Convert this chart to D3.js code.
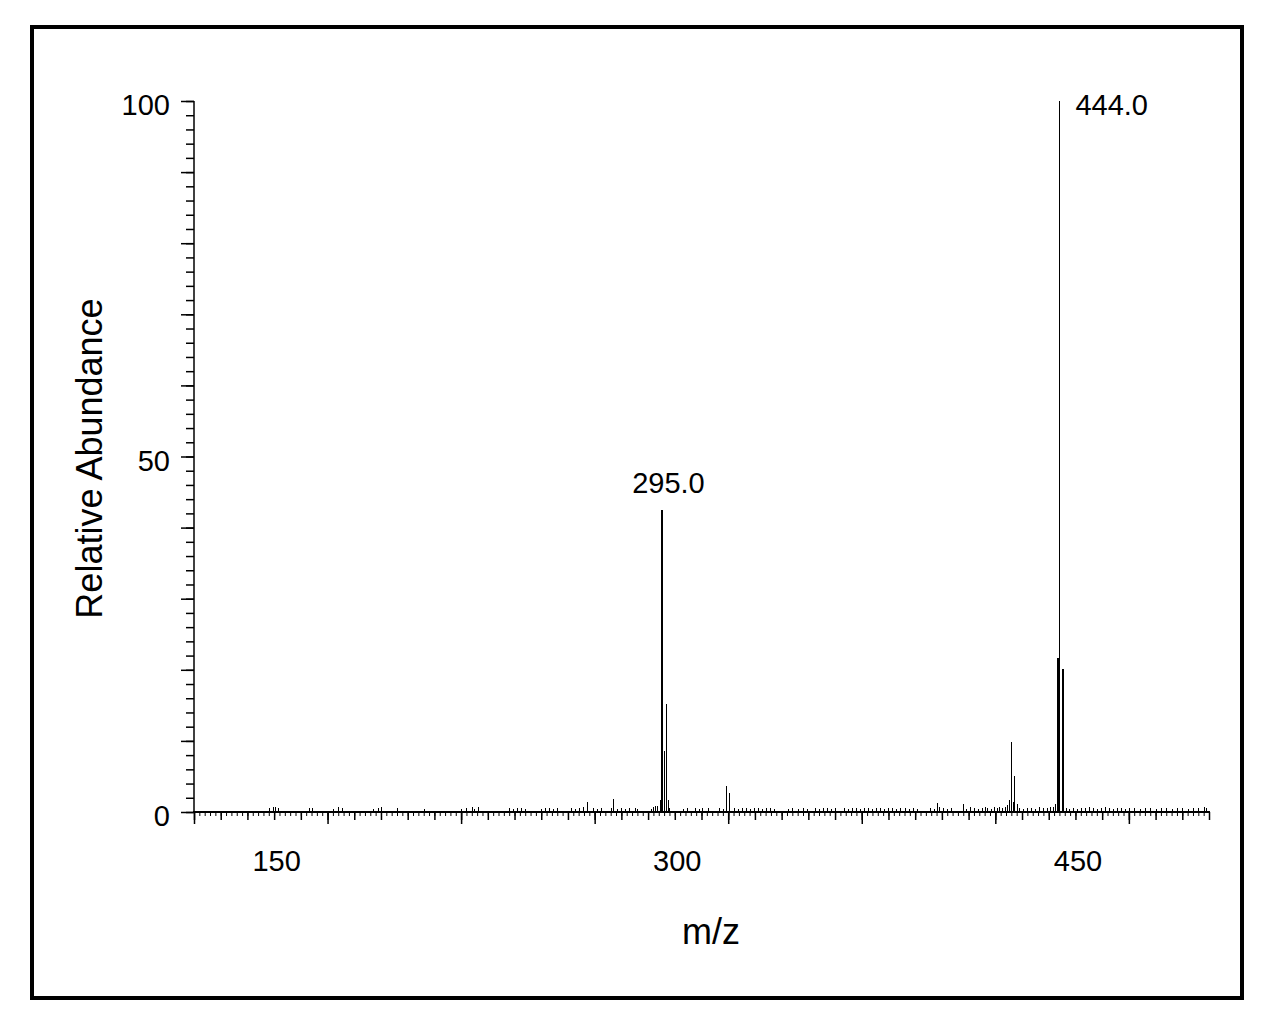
<!DOCTYPE html>
<html>
<head>
<meta charset="utf-8">
<script src="https://cdn.jsdelivr.net/npm/d3@7"></script>
<style>
  body { margin: 0; background: #fff; }
  text { font-family: "Liberation Sans", Arial, sans-serif; fill: #000; }
</style>
</head>
<body>
<svg id="chart"></svg>
<script>
// main peaks [m/z, relative abundance]
const peaks = [
  [267.2, 1.4], [277.0, 1.8], [292.6, 0.9], [293.5, 0.8], [294.4, 1.7],
  [295.0, 42.5], [295.3, 42.5], [296.0, 8.6], [296.6, 15.2], [297.5, 1.7], [298.0, 0.5],
  [319.0, 3.6], [320.4, 2.7], [398.0, 1.3], [408.0, 1.1], [416.0, 0.7],
  [425.3, 1.7], [426.0, 9.8], [426.7, 1.4], [427.1, 5.1], [428.1, 1.1],
  [442.3, 1.1], [443.1, 21.7], [443.4, 21.7], [443.7, 18.7], [444.0, 100],
  [445.0, 20.1], [445.3, 20.1]
];

// baseline noise [m/z, relative abundance]
const noise = [
  [148, 0.4], [149.5, 0.5], [150.5, 0.6], [151.5, 0.4], [163, 0.4], [164, 0.4], [172, 0.3],
  [174, 0.5], [175.5, 0.4], [187, 0.3], [189, 0.4], [190, 0.5], [196, 0.4], [206, 0.3],
  [220, 0.3], [222, 0.4], [224, 0.5], [225, 0.3], [226.5, 0.5], [238, 0.4], [239.5, 0.3],
  [241, 0.4], [242.5, 0.4], [244, 0.3], [250, 0.3], [251.5, 0.4], [253, 0.4], [254.5, 0.3],
  [256, 0.4], [261, 0.4], [262.5, 0.3], [264, 0.4], [265.5, 0.5], [269.5, 0.4], [271, 0.3],
  [272.5, 0.4], [276, 0.4], [278.5, 0.3], [280, 0.4], [281.5, 0.3], [283, 0.4], [285, 0.4],
  [286, 0.3], [291, 0.3], [292, 0.5], [303, 0.3], [304.5, 0.4], [307.5, 0.4], [309, 0.3],
  [310, 0.4], [312.5, 0.4], [316.5, 0.4], [318, 0.3], [322, 0.4], [323.5, 0.3], [325, 0.4],
  [326.5, 0.4], [328, 0.3], [329.5, 0.4], [331, 0.4], [332.5, 0.3], [334, 0.4], [335.5, 0.4],
  [337, 0.3], [342.5, 0.3], [344, 0.4], [346, 0.3], [348, 0.4], [349.5, 0.3], [352.5, 0.4],
  [354, 0.3], [355.5, 0.4], [357, 0.4], [358.5, 0.3], [360, 0.4], [363.5, 0.4], [365, 0.3],
  [366.5, 0.4], [368, 0.4], [369.5, 0.3], [371, 0.4], [372.5, 0.4], [374, 0.3], [375.5, 0.4],
  [377, 0.4], [378.5, 0.3], [380, 0.4], [381.5, 0.4], [383, 0.3], [384.5, 0.4], [386, 0.4],
  [387.5, 0.3], [389, 0.4], [390.5, 0.3], [395.5, 0.4], [397, 0.3], [399, 0.5], [400.5, 0.4],
  [402, 0.3], [403.5, 0.4], [409, 0.3], [410.5, 0.6], [412, 0.4], [413.5, 0.3], [415, 0.4],
  [417, 0.4], [418.5, 0.3], [419.5, 0.5], [420.5, 0.4], [421.5, 0.5], [422.5, 0.4], [423.5, 0.6],
  [424.5, 0.8], [429, 0.4], [430.5, 0.3], [432, 0.4], [433.5, 0.4], [435, 0.3], [436.5, 0.5],
  [438, 0.4], [439.5, 0.4], [440.5, 0.5], [441.5, 0.6], [446.5, 0.4], [447.5, 0.3], [449, 0.4],
  [450.5, 0.3], [452, 0.4], [453.5, 0.4], [455, 0.5], [456.5, 0.4], [458, 0.3], [459.5, 0.4],
  [461, 0.5], [462.5, 0.4], [464, 0.3], [465.5, 0.4], [467, 0.4], [468.5, 0.3], [470, 0.4],
  [472, 0.4], [474, 0.3], [476, 0.4], [478, 0.4], [480, 0.3], [482, 0.4], [484, 0.4],
  [486, 0.3], [488, 0.4], [490, 0.4], [492, 0.3], [494, 0.4], [496, 0.4], [498, 0.5], [499, 0.4]
];

const labelledPeaks = [295.0, 444.0];
const xTickLabels = [150, 300, 450];
const yTickLabels = [0, 50, 100];
const xDomain = [120, 500];
const yDomain = [0, 100];

const width = 1271;
const height = 1024;
const margin = { top: 101, right: 62, bottom: 212, left: 194 };

const x = d3.scaleLinear()
  .domain(xDomain)
  .range([margin.left, width - margin.right]);

const y = d3.scaleLinear()
  .domain(yDomain)
  .range([height - margin.bottom, margin.top]);

const svg = d3.select('#chart')
  .attr('width', width)
  .attr('height', height);

// outer frame
svg.append('rect')
  .attr('x', 32).attr('y', 27)
  .attr('width', 1210).attr('height', 971)
  .attr('fill', 'none')
  .attr('stroke', '#000')
  .attr('stroke-width', 4);

const px = v => Math.round(x(v)) + 0.5;

// spectrum sticks
const sticks = svg.append('g')
  .attr('stroke', '#000')
  .attr('stroke-width', 1)
  .attr('shape-rendering', 'crispEdges');

sticks.selectAll('line.noise')
  .data(noise)
  .join('line')
  .attr('class', 'noise')
  .attr('x1', d => px(d[0])).attr('x2', d => px(d[0]))
  .attr('y1', y(0)).attr('y2', d => y(d[1]) - 1);

sticks.selectAll('line.peak')
  .data(peaks)
  .join('line')
  .attr('class', 'peak')
  .attr('x1', d => px(d[0])).attr('x2', d => px(d[0]))
  .attr('y1', y(0)).attr('y2', d => y(d[1]));

// x axis: minor / medium / major ticks
const tickLayers = [[2, 4], [10, 8], [50, 12]];
tickLayers.forEach(([step, size]) => {
  svg.append('g')
    .attr('transform', `translate(0,${y(0)})`)
    .call(d3.axisBottom(x)
      .tickValues(d3.range(xDomain[0], xDomain[1] + 1, step))
      .tickSize(size)
      .tickFormat(''))
    .call(g => g.select('.domain').remove())
    .call(g => g.selectAll('line').attr('stroke-width', step === 2 ? 1 : 1.5));
});

svg.append('g')
  .attr('transform', `translate(2,${y(0)})`)
  .call(d3.axisBottom(x).tickValues(xTickLabels).tickSize(0).tickPadding(38))
  .call(g => g.select('.domain').remove())
  .call(g => g.selectAll('text').attr('font-size', 29));

svg.append('line')
  .attr('x1', x(xDomain[0]) - 1).attr('x2', x(xDomain[1]) + 1)
  .attr('y1', y(0)).attr('y2', y(0))
  .attr('stroke', '#000').attr('stroke-width', 2);

// y axis
[[2, 8], [10, 13]].forEach(([step, size]) => {
  svg.append('g')
    .attr('transform', `translate(${x(xDomain[0])},0)`)
    .call(d3.axisLeft(y)
      .tickValues(d3.range(yDomain[0], yDomain[1] + 1, step))
      .tickSize(size)
      .tickFormat(''))
    .call(g => g.select('.domain').remove())
    .call(g => g.selectAll('line').attr('stroke-width', 1.5));
});

svg.append('g')
  .attr('transform', `translate(${x(xDomain[0])},0)`)
  .call(d3.axisLeft(y).tickValues(yTickLabels).tickSize(0).tickPadding(24))
  .call(g => g.select('.domain').remove())
  .call(g => g.selectAll('text').attr('font-size', 29).attr('dy', '0.48em'));

svg.append('line')
  .attr('x1', x(xDomain[0])).attr('x2', x(xDomain[0]))
  .attr('y1', y(100)).attr('y2', y(0))
  .attr('stroke', '#000').attr('stroke-width', 1.5);

// peak labels
svg.append('g')
  .attr('font-size', 29)
  .selectAll('text')
  .data(peaks.filter(d => labelledPeaks.includes(d[0])))
  .join('text')
  .attr('text-anchor', d => d[1] > 95 ? 'start' : 'middle')
  .attr('x', d => d[1] > 95 ? x(d[0]) + 16 : x(d[0]) + 7)
  .attr('y', d => d[1] > 95 ? y(d[1]) + 14 : y(d[1]) - 17)
  .text(d => d[0].toFixed(1));

// axis titles
svg.append('text')
  .attr('x', 711).attr('y', 944)
  .attr('text-anchor', 'middle')
  .attr('font-size', 36)
  .text('m/z');

svg.append('text')
  .attr('transform', `translate(102,${(y(0) + y(100)) / 2 + 2}) rotate(-90)`)
  .attr('text-anchor', 'middle')
  .attr('font-size', 36)
  .text('Relative Abundance');
</script>
</body>
</html>
